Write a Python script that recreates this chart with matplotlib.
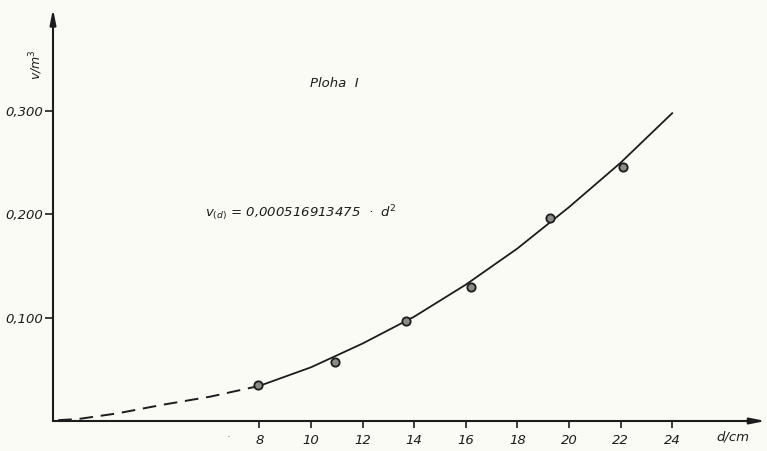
import matplotlib
matplotlib.use("Agg")
import matplotlib.pyplot as plt

# measured stems (d in cm, v in m^3)
meas_d = [7.95, 10.93, 13.67, 16.2, 19.26, 22.1]
meas_v = [0.0348, 0.0574, 0.0971, 0.1294, 0.1968, 0.2456]

# hand drawn fit curve
dash_d = [0.2, 1.0, 2.5, 4.2, 6.1, 8.0]
dash_v = [0.0008, 0.002, 0.0074, 0.0155, 0.0236, 0.034]
curve_d = [8, 10, 12, 14, 16, 18, 20, 22, 24]
curve_v = [0.034, 0.052, 0.075, 0.101, 0.132, 0.167, 0.207, 0.250, 0.298]

xticks = [8, 10, 12, 14, 16, 18, 20, 22, 24]
yticks = [0.1, 0.2, 0.3]
ytick_labels = ["0,100", "0,200", "0,300"]

INK = "#1c1c1c"
PAPER = "#fbfbf5"

plt.rcParams["mathtext.fontset"] = "dejavusans"
plt.rcParams["mathtext.default"] = "it"

fig = plt.figure(figsize=(7.67, 4.51), dpi=100, facecolor=PAPER)
ax = fig.add_axes([53 / 767, 30 / 451, 714 / 767, 413 / 451])
ax.set_facecolor(PAPER)
ax.set_xlim(0, 714 / 25.8)
ax.set_ylim(0, 413 / 1033)

for s in ax.spines.values():
    s.set_visible(False)

# axes with arrow heads
arrow = dict(arrowstyle="-|>,head_length=0.9,head_width=0.18", color=INK, lw=1.5,
             shrinkA=0, shrinkB=0)
ax.annotate("", xy=(0.998, 0), xytext=(0, 0), xycoords="axes fraction",
            textcoords="axes fraction", arrowprops=arrow, annotation_clip=False)
ax.annotate("", xy=(0, 0.998), xytext=(0, 0), xycoords="axes fraction",
            textcoords="axes fraction", arrowprops=arrow, annotation_clip=False)

# ticks
ax.set_xticks(xticks)
ax.set_xticklabels([str(t) for t in xticks], style="italic", fontsize=9.5, color=INK)
ax.set_yticks(yticks)
ax.set_yticklabels(ytick_labels, style="italic", fontsize=9.5, color=INK)
ax.tick_params(axis="x", direction="out", length=5, width=1.2, color=INK, pad=4)
ax.tick_params(axis="y", direction="out", length=6, width=1.2, color=INK, pad=1)

# curve
ax.plot(dash_d, dash_v, color=INK, lw=1.4, ls=(0, (7, 4)), clip_on=False)
ax.plot(curve_d, curve_v, color=INK, lw=1.3)

# measured points
ax.plot(meas_d, meas_v, ls="none", marker="o", ms=6, mfc="#8a8a86", mec=INK,
        mew=1.3, zorder=3)

# labels
ax.text(26.36, -0.0155, "d/cm", style="italic", fontsize=9.5, color=INK,
        ha="center", va="center", clip_on=False)
ax.text(-0.66, 0.3446, r"v/m$^3$", style="italic", fontsize=9, color=INK,
        rotation=90, ha="center", va="center", clip_on=False)
ax.text(6.8, -0.0155, "·", fontsize=8, color="#777777", ha="center", va="center",
        clip_on=False)

ax.text(9.96, 0.327, "Ploha  I", style="italic", fontsize=9.5, color=INK,
        ha="left", va="center")
ax.text(5.9, 0.2014, r"$v_{(d)}$ = 0,000516913475  ·  d$^{2}$", style="italic",
        fontsize=9.5, color=INK, ha="left", va="center")

fig.savefig("out.png", dpi=100, facecolor=PAPER)
